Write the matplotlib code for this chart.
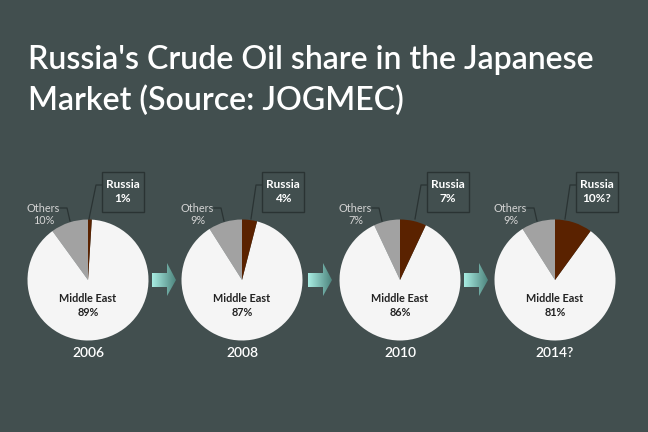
import numpy as np
import matplotlib
matplotlib.use('Agg')
import matplotlib.pyplot as plt
from matplotlib.patches import Polygon, Rectangle

# Dados (participação no mercado japonês, %)
anos = ['2006', '2008', '2010', '2014?']
russia = [1, 4, 7, 10]
outros = [10, 9, 7, 9]
oriente_medio = [89, 87, 86, 81]
rotulos_russia = ['1%', '4%', '7%', '10%?']

# Layout (pixels)
centros_x = [88, 242, 400, 555]
centro_y = 280
raio = 60.5
caixa_esq = [102, 262, 427, 576]
fim_linha_russia = [89, 251, 415, 565]
setas_x = [164, 320, 476]

fundo = '#424f4f'
cor_russia = '#5a2200'
cor_outros = '#a2a2a2'
cor_oriente = '#f5f5f5'

plt.rcParams['font.family'] = ['Lato', 'DejaVu Sans']

fig = plt.figure(figsize=(6.48, 4.32), dpi=100, facecolor=fundo)
ax = fig.add_axes([0, 0, 1, 1])
ax.set_facecolor(fundo)

for i in range(len(anos)):
    cx = centros_x[i]
    ax.pie([outros[i], oriente_medio[i], russia[i]],
           colors=[cor_outros, cor_oriente, cor_russia],
           startangle=-90, counterclock=False,
           center=(cx, centro_y), radius=raio,
           wedgeprops={'linewidth': 0})

    # Oriente Médio
    ax.text(cx, 299, 'Middle East', ha='center', va='center', fontsize=7.8,
            fontweight='bold', color='#222222')
    ax.text(cx, 312, f'{oriente_medio[i]}%', ha='center', va='center', fontsize=7.8,
            fontweight='bold', color='#222222')

    # Outros
    ax.text(cx - 45, 208, 'Others', ha='center', va='center', fontsize=7.8, color='#d4d4d4')
    ax.text(cx - 44, 220, f'{outros[i]}%', ha='center', va='center', fontsize=7.8, color='#d4d4d4')
    ax.plot([cx - 28, cx - 21, cx - 18], [208, 208, 221], color='#2a3333', lw=0.9)

    # Rússia (caixa)
    esq = caixa_esq[i]
    ax.add_patch(Rectangle((esq, 172), 42, 40, facecolor='none',
                           edgecolor='#2a3333', lw=1))
    ax.text(esq + 21, 185, 'Russia', ha='center', va='center', fontsize=8.5,
            fontweight='bold', color='white')
    ax.text(esq + 21, 199, rotulos_russia[i], ha='center', va='center', fontsize=8.5,
            fontweight='bold', color='white')
    ax.plot([esq, esq - 6, fim_linha_russia[i]], [185, 185, 219],
            color='#2a3333', lw=0.9)

    # Ano
    ax.text(cx, 353, anos[i], ha='center', va='center', fontsize=10,
            fontweight='semibold', color='white')

# Setas com gradiente
gradiente = np.linspace(0, 1, 100).reshape(1, -1)
cmap = matplotlib.colors.LinearSegmentedColormap.from_list('seta', ['#a8ece2', '#4e857e'])
for sx in setas_x:
    pts = [(sx - 12, 273), (sx + 3, 273), (sx + 3, 263), (sx + 12, 280),
           (sx + 3, 296), (sx + 3, 287), (sx - 12, 287)]
    poly = Polygon(pts, closed=True, facecolor='none', edgecolor='none')
    ax.add_patch(poly)
    img = ax.imshow(gradiente, cmap=cmap, extent=(sx - 12, sx + 12, 296, 263),
                    aspect='auto', zorder=3)
    img.set_clip_path(poly)

# Título
ax.text(28, 60, "Russia's Crude Oil share in the Japanese", fontsize=23,
        fontweight='semibold', color='white', va='center', ha='left')
ax.text(28, 101, 'Market (Source: JOGMEC)', fontsize=23,
        fontweight='semibold', color='white', va='center', ha='left')

ax.set_xlim(0, 648)
ax.set_ylim(432, 0)
ax.set_aspect('auto')
ax.axis('off')

fig.savefig('out.png', dpi=100, facecolor=fundo)
